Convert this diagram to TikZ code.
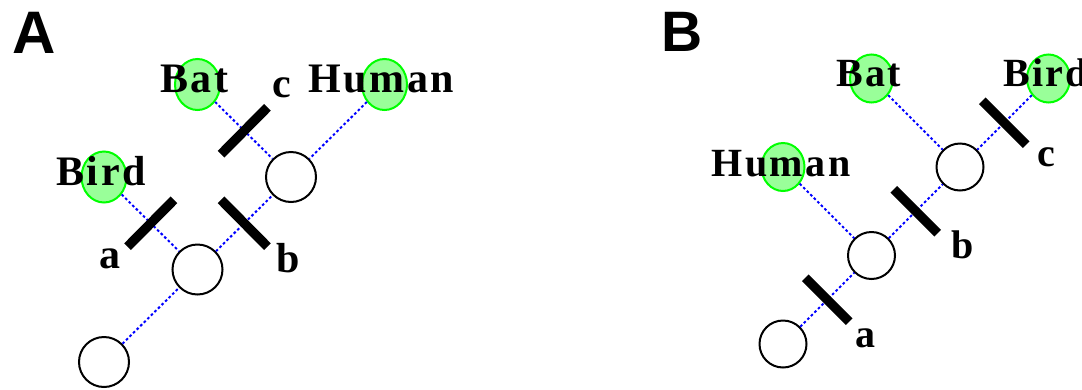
\documentclass[tikz,border=0pt]{standalone}
\usepackage{fontspec}
\setmainfont{Liberation Serif}
\newfontfamily\namefont[LetterSpace=6]{Liberation Serif}
\newfontfamily\panelfont{Liberation Sans}
\usetikzlibrary{positioning,calc,shapes.geometric}
\definecolor{leafgreen}{HTML}{99FF99}
\definecolor{rimgreen}{HTML}{00FF00}
\tikzset{
  taxon/.style={ellipse,draw=rimgreen,fill=leafgreen,line width=2pt,minimum width=45pt,minimum height=51pt,inner sep=0pt},
  branchpt/.style={circle,draw,line width=2pt,minimum size=50pt,inner sep=0pt},
  branch/.style={blue,line width=2pt,dash pattern=on 2.6pt off 2.4pt},
  charbar/.style={line width=9.5pt},
  taxonname/.style={font=\namefont\bfseries\fontsize{42}{42}\selectfont,anchor=base,inner sep=0pt},
  charlabel/.style={font=\bfseries\fontsize{42}{42}\selectfont,anchor=base,inner sep=0pt},
  panel/.style={font=\panelfont\bfseries\fontsize{60}{60}\selectfont,anchor=base west,inner sep=0pt}
}
\begin{document}
\begin{tikzpicture}[x=1pt,y=-1pt,on grid]
\useasboundingbox (0,0) rectangle (1082,389);
% --- A: Bird outside, Bat + Human together
\node[panel] (labA) at (12,53) {A};
\node[branchpt] (rootA) at (104,362) {};
\node[branchpt,above right=92.5pt and 93.5pt of rootA] (midA) {};
\node[branchpt,above right=92.5pt and 93.5pt of midA] (topA) {};
\node[taxon,above left=92.5pt and 93.5pt of midA] (birdA) {};
\node[taxon,above left=92.5pt and 93.5pt of topA] (batA) {};
\node[taxon,above right=92.5pt and 93.5pt of topA] (humanA) {};
\draw[branch] (rootA) -- (midA);
\draw[branch] (midA) -- (topA);
\draw[branch] (birdA) -- (midA);
\draw[branch] (batA) -- (topA);
\draw[branch] (humanA) -- (topA);
\coordinate (aMidA) at ($(birdA)!0.5!(midA)$);
\coordinate (bMidA) at ($(midA)!0.5!(topA)$);
\coordinate (cMidA) at ($(batA)!0.5!(topA)$);
\draw[charbar] ($(aMidA)!33pt!90:(midA)$) -- ($(aMidA)!33pt!-90:(midA)$) coordinate (aEndA);
\draw[charbar] ($(bMidA)!33pt!90:(topA)$) -- ($(bMidA)!33pt!-90:(topA)$) coordinate (bEndA);
\draw[charbar] ($(cMidA)!33pt!-90:(topA)$) -- ($(cMidA)!33pt!90:(topA)$) coordinate (cEndA);
\node[charlabel] (aLabA) at ($(aEndA)+(-18,22)$) {a};
\node[charlabel] (bLabA) at ($(bEndA)+(20.5,26)$) {b};
\node[charlabel] (cLabA) at ($(cEndA)+(14,-10)$) {c};
\node[taxonname] (birdAname) at ($(birdA)+(-3,8)$) {Bird};
\node[taxonname] (batAname) at ($(batA)+(-3,8)$) {Bat};
\node[taxonname] (humanAname) at ($(humanA)+(-3,8)$) {Human};
% --- B: Human outside, Bat + Bird together
\begin{scope}[taxon/.append style={minimum width=43pt,minimum height=48pt},
  branchpt/.append style={minimum size=47pt},
  taxonname/.append style={font=\namefont\bfseries\fontsize{40}{40}\selectfont},
  charlabel/.append style={font=\bfseries\fontsize{40}{40}\selectfont},
  panel/.append style={font=\panelfont\bfseries\fontsize{57}{57}\selectfont}]
\node[panel] (labB) at (661,51) {B};
\node[branchpt] (rootB) at (783,344) {};
\node[branchpt,above right=88.5pt and 88.5pt of rootB] (midB) {};
\node[branchpt,above right=88.5pt and 88.5pt of midB] (topB) {};
\node[taxon,above left=88.5pt and 88.5pt of midB] (humanB) {};
\node[taxon,above left=88.5pt and 88.5pt of topB] (batB) {};
\node[taxon,above right=88.5pt and 88.5pt of topB] (birdB) {};
\draw[branch] (rootB) -- (midB);
\draw[branch] (midB) -- (topB);
\draw[branch] (humanB) -- (midB);
\draw[branch] (batB) -- (topB);
\draw[branch] (birdB) -- (topB);
\coordinate (aMidB) at ($(midB)!0.5!(rootB)$);
\coordinate (bMidB) at ($(topB)!0.5!(midB)$);
\coordinate (cMidB) at ($(birdB)!0.5!(topB)$);
\draw[charbar] ($(aMidB)!31pt!-90:(rootB)$) -- ($(aMidB)!31pt!90:(rootB)$) coordinate (aEndB);
\draw[charbar] ($(bMidB)!31pt!-90:(midB)$) -- ($(bMidB)!31pt!90:(midB)$) coordinate (bEndB);
\draw[charbar] ($(cMidB)!31pt!-90:(topB)$) -- ($(cMidB)!31pt!90:(topB)$) coordinate (cEndB);
\node[charlabel] (aLabB) at ($(aEndB)+(16,26)$) {a};
\node[charlabel] (bLabB) at ($(bEndB)+(25,25)$) {b};
\node[charlabel] (cLabB) at ($(cEndB)+(20,22)$) {c};
\node[taxonname] (humanBname) at ($(humanB)+(-2,9)$) {Human};
\node[taxonname] (batBname) at ($(batB)+(-3,8)$) {Bat};
\node[taxonname] (birdBname) at ($(birdB)+(-3,8)$) {Bird};
\end{scope}
\end{tikzpicture}
\end{document}
